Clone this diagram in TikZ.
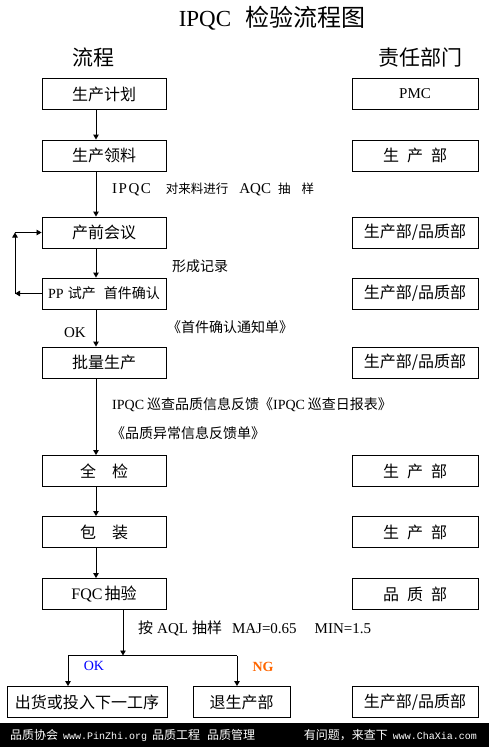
\documentclass[tikz,border=0pt]{standalone}
\usepackage{fontspec}
\setmainfont{Liberation Serif}
\setmonofont{Liberation Mono}
\newfontfamily\cjk{Noto Sans CJK SC}
\usetikzlibrary{arrows.meta}
\definecolor{okBlue}{RGB}{0,0,255}
\definecolor{ngOrange}{RGB}{255,102,0}
\newcommand\lat[1]{{\rmfamily #1}}
\newcommand\gap[1]{\hspace{#1bp}}
\begin{document}
\begin{tikzpicture}[x=1bp, y=-1bp,
    flowBox/.style={draw, line width=0.9bp, minimum width=124bp, minimum height=31bp, inner sep=0pt, font=\cjk\fontsize{16bp}{19bp}\selectfont},
    dutyBox/.style={flowBox, minimum width=126bp},
    flowNote/.style={anchor=west, inner sep=0pt, font=\cjk\fontsize{14bp}{17bp}\selectfont},
    flowArrow/.style={-{Triangle[length=5bp, width=5.5bp]}, line width=0.9bp}]

    \useasboundingbox (0,0) rectangle (489,747);

    \node[font=\fontsize{23bp}{28bp}\selectfont] (title) at (272,18) {IPQC\gap{14}{\cjk\fontsize{24bp}{28bp}\selectfont 检验流程图}};
    \node[font=\cjk\fontsize{21bp}{25bp}\selectfont] (flowHead) at (93,57) {流程};
    \node[font=\cjk\fontsize{21bp}{25bp}\selectfont] (dutyHead) at (420,57) {责任部门};

    \node[flowBox] (plan) at (104,94) {生产计划};
    \node[flowBox] (pick) at (104,155.5) {生产领料};
    \node[flowBox] (meet) at (104,232.5) {产前会议};
    \node[flowBox, font=\cjk\fontsize{14bp}{17bp}\selectfont] (trial) at (104,293.5) {\lat{PP}\gap{4}试产\gap{8}首件确认};
    \node[flowBox] (mass) at (104,362.5) {批量生产};
    \node[flowBox] (fullChk) at (104,471) {全\gap{16}检};
    \node[flowBox] (pack) at (104,532) {包\gap{16}装};
    \node[flowBox] (fqc) at (104,594) {\lat{FQC}\gap{2}抽验};
    \node[flowBox, minimum width=160bp] (ship) at (87,702) {出货或投入下一工序};
    \node[flowBox, minimum width=97bp] (back) at (241.5,702) {退生产部};

    \node[dutyBox, font=\fontsize{15bp}{18bp}\selectfont] (dPlan) at (415,94) {PMC};
    \node[dutyBox] (dPick) at (415,155.5) {生\gap{8}产\gap{8}部};
    \node[dutyBox] (dMeet) at (415,232.5) {生产部/品质部};
    \node[dutyBox] (dTrial) at (415,293.5) {生产部/品质部};
    \node[dutyBox] (dMass) at (415,362.5) {生产部/品质部};
    \node[dutyBox] (dFull) at (415,471) {生\gap{8}产\gap{8}部};
    \node[dutyBox] (dPack) at (415,532) {生\gap{8}产\gap{8}部};
    \node[dutyBox] (dFqc) at (415,594) {品\gap{8}质\gap{8}部};
    \node[dutyBox] (dShip) at (415,702) {生产部/品质部};

    % main line, left of the box centres
    \coordinate (spine) at (96,0);
    \draw[flowArrow] (plan.south -| spine) -- (pick.north -| spine);
    \draw[flowArrow] (pick.south -| spine) -- (meet.north -| spine);
    \draw[flowArrow] (meet.south -| spine) -- (trial.north -| spine);
    \draw[flowArrow] (trial.south -| spine) -- (mass.north -| spine);
    \draw[flowArrow] (mass.south -| spine) -- (fullChk.north -| spine);
    \draw[flowArrow] (fullChk.south -| spine) -- (pack.north -| spine);
    \draw[flowArrow] (pack.south -| spine) -- (fqc.north -| spine);

    % back to the meeting
    \coordinate (loopX) at (15,0);
    \draw[flowArrow] (trial.west) -- (trial.west -| loopX);
    \draw[flowArrow] (trial.west -| loopX) -- (meet.west -| loopX);
    \draw[flowArrow] (meet.west -| loopX) -- (meet.west);

    % OK / NG split
    \coordinate (split) at (123,655.5);
    \coordinate (okDrop) at (68,655.5);
    \coordinate (ngDrop) at (237,655.5);
    \draw[flowArrow] (fqc.south -| split) -- (split);
    \draw[line width=0.9bp] (okDrop) -- (ngDrop);
    \draw[flowArrow] (okDrop) -- (ship.north -| okDrop);
    \draw[flowArrow] (ngDrop) -- (back.north -| ngDrop);

    \node[flowNote, font=\cjk\fontsize{12.5bp}{15bp}\selectfont] (aqcNote) at (112,189) {{\rmfamily\fontsize{15bp}{17bp}\selectfont I\gap{1.5}P\gap{1.5}Q\gap{1.5}C}\gap{15}对来料进行\gap{11}{\rmfamily\fontsize{15bp}{17bp}\selectfont AQC}\gap{7}抽\gap{11}样};
    \node[flowNote] (recNote) at (172,266) {形成记录};
    \node[inner sep=0pt, font=\fontsize{15bp}{18bp}\selectfont] (okMass) at (75,333) {OK};
    \node[flowNote] (firstNote) at (167,327) {《首件确认通知单》};
    \node[flowNote] (patrolNote) at (112,405) {\lat{IPQC}\gap{3}巡查品质信息反馈《\lat{IPQC}\gap{3}巡查日报表》};
    \node[flowNote] (abnNote) at (111,433) {《品质异常信息反馈单》};
    \node[flowNote, font=\fontsize{15bp}{18bp}\selectfont] (aqlNote) at (138,628) {{\cjk 按}\gap{4}AQL\gap{4}{\cjk 抽样}\gap{10}MAJ=0.65\gap{18}MIN=1.5};
    \node[inner sep=0pt, text=okBlue, font=\fontsize{14bp}{17bp}\selectfont] (okShip) at (94,666) {OK};
    \node[inner sep=0pt, text=ngOrange, font=\bfseries\fontsize{14bp}{17bp}\selectfont] (ngBack) at (263,667) {NG};

    % footer bar
    \fill[black] (0,723) rectangle (489,747);
    \node[anchor=west, inner sep=0pt, text=white, font=\cjk\fontsize{12bp}{14bp}\selectfont] (footLeft) at (10,735) {品质协会\gap{5}{\ttfamily\fontsize{10bp}{12bp}\selectfont www.PinZhi.org}\gap{5}品质工程\gap{7}品质管理};
    \node[anchor=east, inner sep=0pt, text=white, font=\cjk\fontsize{12bp}{14bp}\selectfont] (footRight) at (477,735) {有问题，来查下\gap{5}{\ttfamily\fontsize{10bp}{12bp}\selectfont www.ChaXia.com}};
\end{tikzpicture}
\end{document}
